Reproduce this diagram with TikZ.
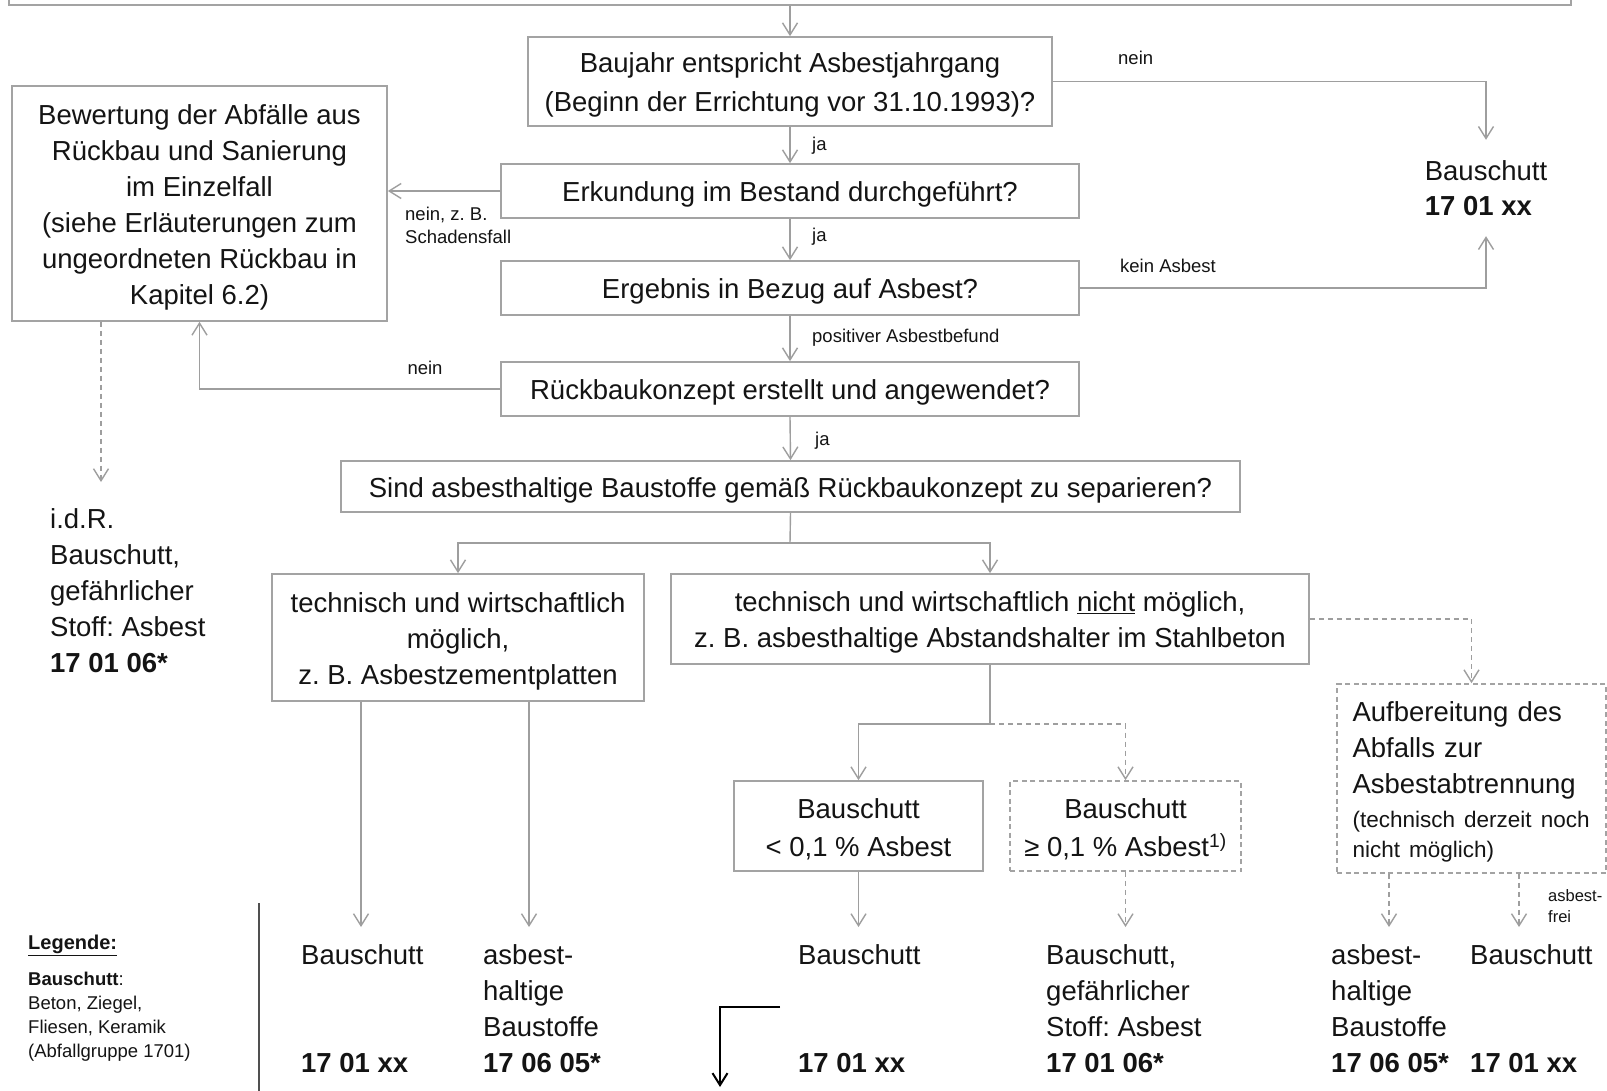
\documentclass[tikz,border=0pt]{standalone}
\usepackage{fontspec}
\setmainfont{Liberation Sans}
\usetikzlibrary{arrows.meta}
\frenchspacing
\definecolor{boxgray}{HTML}{A3A3A3}
\definecolor{lngray}{HTML}{9E9E9E}
\definecolor{txtblack}{HTML}{141414}
\definecolor{legline}{HTML}{505050}
\newcommand\fsMain{\fontsize{27.5}{36}\selectfont}
\newcommand\fsBau{\fontsize{27.5}{39}\selectfont}
\newcommand\fsLt{\fontsize{27.5}{38}\selectfont}
\newcommand\fsRight{\fontsize{27.5}{35}\selectfont}
\newcommand\fsSmall{\fontsize{18.5}{23}\selectfont}
\newcommand\fsFrei{\fontsize{16.5}{21}\selectfont}
\newcommand\fsMid{\fontsize{22.5}{30}\selectfont}
\newcommand\fsLeg{\fontsize{18.5}{24}\selectfont}
\newcommand\fsLegT{\fontsize{20}{24}\selectfont}
\newcommand\toppad{\rule{0pt}{27pt}}
\begin{document}
\frenchspacing
\begin{tikzpicture}[x=1pt,y=-1pt,
  box/.style={draw=boxgray, line width=1.7pt, align=center, inner sep=0pt, font=\fsMain, text=txtblack},
  dbox/.style={box, dash pattern=on 5pt off 3.5pt},
  conn/.style={draw=lngray, line width=1.4pt},
  arr/.style={conn, -{Straight Barb[length=12pt,width=15pt]}},
  darr/.style={arr, dash pattern=on 5pt off 4pt},
  lbl/.style={font=\fsSmall, inner sep=0pt, text=txtblack},
  res/.style={font=\fsMain, align=left, inner sep=0pt, anchor=north west, text=txtblack},
  blackarr/.style={draw=black, line width=2pt, -{Straight Barb[length=12pt,width=15pt]}},
]
\useasboundingbox (0,0) rectangle (1607,1091);
\clip (0,0) rectangle (1607,1091);
\fill[white] (0,0) rectangle (1607,1091);

% boxes
\node[box, minimum width=1562pt, minimum height=105pt] (top) at (790,-47.5) {};
\node[box, font=\fsBau, minimum width=524pt, minimum height=89pt] (bau) at (790,81.5)
  {\toppad Baujahr entspricht Asbestjahrgang\\(Beginn der Errichtung vor 31.10.1993)?};
\node[box, minimum width=375pt, minimum height=235pt] (bew) at (199.5,203.5)
  {\toppad Bewertung der Abfälle aus\\Rückbau und Sanierung\\im Einzelfall\\(siehe Erläuterungen zum\\ungeordneten Rückbau in\\Kapitel 6.2)};
\node[box, minimum width=578pt, minimum height=54pt] (erk) at (790,191) {\toppad Erkundung im Bestand durchgeführt?};
\node[box, minimum width=578pt, minimum height=54pt] (erg) at (790,288) {\toppad Ergebnis in Bezug auf Asbest?};
\node[box, minimum width=578pt, minimum height=54pt] (rk) at (790,389) {\toppad Rückbaukonzept erstellt und angewendet?};
\node[box, minimum width=899pt, minimum height=51pt] (sind) at (790.5,486.5)
  {\toppad Sind asbesthaltige Baustoffe gemäß Rückbaukonzept zu separieren?};
\node[box, minimum width=372pt, minimum height=127pt] (moeg) at (458,637.5)
  {\toppad technisch und wirtschaftlich\\möglich,\\z. B. Asbestzementplatten};
\node[box, minimum width=638pt, minimum height=90pt] (nicht) at (990,619)
  {\toppad technisch und wirtschaftlich \underline{nicht} möglich,\\z. B. asbesthaltige Abstandshalter im Stahlbeton};
\node[box, font=\fsLt, minimum width=249pt, minimum height=90pt] (lt) at (858.5,826)
  {\toppad Bauschutt\\< 0,1 \% Asbest};
\node[dbox, font=\fsLt, minimum width=231pt, minimum height=90pt] (ge) at (1125.5,826)
  {\toppad Bauschutt\\≥ 0,1 \% Asbest\textsuperscript{1)}};
\node[dbox, align=left, text width=238pt, inner xsep=15.5pt, inner ysep=0pt, minimum height=189pt] (auf) at (1471.5,778.5)
  {{\fsMain\toppad Aufbereitung des\\Abfalls zur\\Asbestabtrennung\par}\vspace{4pt}{\fsMid (technisch derzeit noch\\nicht möglich)\par}};

% text results
\node[res, font=\fsRight, minimum height=96pt, anchor=center] (bs1) at (1486,188) {Bauschutt\\\textbf{17 01 xx}};
\node[res] (idr) at (50,508.6) {i.d.R.\\Bauschutt,\\gefährlicher\\Stoff: Asbest\\\textbf{17 01 06*}};
\node[res] (r1) at (301,944) {Bauschutt\\\mbox{}\\\mbox{}\\\textbf{17 01 xx}};
\node[res] (r2) at (483,944) {asbest-\\haltige\\Baustoffe\\\textbf{17 06 05*}};
\node[res] (r3) at (798,944) {Bauschutt\\\mbox{}\\\mbox{}\\\textbf{17 01 xx}};
\node[res] (r4) at (1046,944) {Bauschutt,\\gefährlicher\\Stoff: Asbest\\\textbf{17 01 06*}};
\node[res] (r5) at (1331,944) {asbest-\\haltige\\Baustoffe\\\textbf{17 06 05*}};
\node[res] (r6) at (1470,944) {Bauschutt\\\mbox{}\\\mbox{}\\\textbf{17 01 xx}};

% legend
\node[lbl, anchor=west, font=\fsLegT\bfseries] (legT) at (28,945) {\underline{Legende:}};
\node[lbl, anchor=north west, align=left, font=\fsLeg] (legB) at (28,972)
  {\textbf{Bauschutt}:\\Beton, Ziegel,\\Fliesen, Keramik\\(Abfallgruppe 1701)};
\draw[draw=legline, line width=2.2pt] (259,903) -- (259,1095);

% coordinates for free arrow ends
\coordinate (idrA) at (101,482);
\coordinate (split) at (790,543);
\coordinate (sp2) at (990,724);
\coordinate (e1) at (361,927);
\coordinate (e2) at (529,927);
\coordinate (e5) at (1389,927);
\coordinate (e6) at (1519,927);
\coordinate (ba1) at (780,1007);
\coordinate (ba2) at (720,1087);

% connectors
\draw[arr] (top.south) -- (bau.north);
\draw[arr] (bau.east) -- (bau.east -| bs1.north) -- (bs1.north);
\draw[arr] (bau.south) -- (erk.north);
\draw[arr] (erk.west) -- (bew.east |- erk.west);
\draw[arr] (erk.south) -- (erg.north);
\draw[arr] (erg.east) -- (erg.east -| bs1.south) -- (bs1.south);
\draw[arr] (erg.south) -- (rk.north);
\draw[arr] (rk.west) -- (rk.west -| bew.south) -- (bew.south);
\draw[darr] (bew.south -| idrA) -- (idrA);
\draw[arr] (rk.south) -- (sind.north);
\draw[conn] (sind.south) -- (split);
\draw[arr] (split) -| (moeg.north);
\draw[arr] (split) -| (nicht.north);
\draw[darr] (nicht.east) -| (auf.north);
\draw[conn] (nicht.south) -- (sp2);
\draw[arr] (sp2) -| (lt.north);
\draw[darr] (sp2) -| (ge.north);
\draw[arr] (moeg.south -| e1) -- (e1);
\draw[arr] (moeg.south -| e2) -- (e2);
\draw[arr] (lt.south) -- (lt.south |- e1);
\draw[darr] (ge.south) -- (ge.south |- e1);
\draw[darr] (auf.south -| e5) -- (e5);
\draw[darr] (auf.south -| e6) -- (e6);
\draw[blackarr] (ba1) -| (ba2);

% labels
\node[lbl, anchor=west] (l1) at (1118,58) {nein};
\node[lbl, anchor=west] (l2) at (812,146) {ja};
\node[lbl, anchor=north west, align=left] (l3) at (405,206.5) {nein, z. B.\\Schadensfall};
\node[lbl, anchor=west] (l4) at (812,237) {ja};
\node[lbl, anchor=west] (l5) at (1120,265.5) {kein Asbest};
\node[lbl, anchor=west] (l6) at (812,338) {positiver Asbestbefund};
\node[lbl, anchor=center] (l7) at (425,368) {nein};
\node[lbl, anchor=west] (l8) at (815,441) {ja};
\node[lbl, anchor=north west, align=left, font=\fsFrei] (l9) at (1548,889.5) {asbest-\\frei};
\end{tikzpicture}
\end{document}
